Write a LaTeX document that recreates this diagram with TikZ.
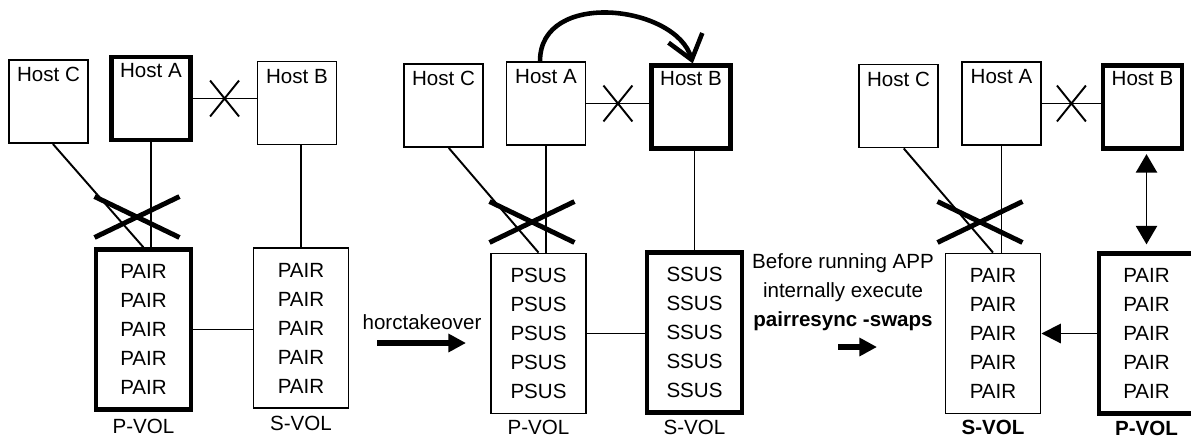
\documentclass[tikz,border=0pt]{standalone}
\usepackage{fontspec}
\setmainfont{Liberation Sans}
\usetikzlibrary{arrows.meta,positioning,shapes.misc}
\tikzset{
  every node/.style={font=\fontsize{11.7}{16.5}\selectfont},
  hst/.style={draw, line width=1.1pt, minimum width=1.58cm, minimum height=1.66cm,
    label={[anchor=north, inner sep=0pt, yshift=-0.16cm]north:#1}},
  vol/.style={draw, line width=1.1pt, minimum width=1.9cm, minimum height=3.2cm, align=center, inner sep=0pt},
  hvy/.style={line width=2.4pt},
  lnk/.style={line width=1.1pt},
  vlab/.style={inner sep=1pt},
  xs/.style={cross out, draw, line width=1.1pt, minimum width=0.54cm, minimum height=0.68cm, inner sep=0pt},
  xb/.style={cross out, draw, line width=2.8pt, minimum width=1.6cm, minimum height=0.72cm, inner sep=0pt},
  fat/.style={line width=3pt, -{Triangle[length=10pt,width=10pt]}},
  every picture/.style={line join=miter}
}

\begin{document}
\begin{tikzpicture}[x=0.02cm, y=-0.02cm]
  \useasboundingbox (0,0) rectangle (1191,441);
  \fill[white] (0,0) rectangle (1191,441);
  \clip (0,0) rectangle (1191,441);

  % before takeover
  \node[hst=Host C] (c1) at (48.5,101.5) {};
  \node[hst=Host A, hvy] (a1) at (151,98.5) {};
  \node[hst=Host B] (b1) at (297,103) {};
  \node[vol, hvy] (p1) at (143.5,329.5) {PAIR\\PAIR\\PAIR\\PAIR\\PAIR};
  \node[vol] (s1) at (301,328) {PAIR\\PAIR\\PAIR\\PAIR\\PAIR};
  \node[vlab, below=3pt of p1] (p1l) {P-VOL};
  \node[vlab, below=3pt of s1] (s1l) {S-VOL};
  \draw[lnk] (a1.east) -- node[xs] (x1) {} (a1.east -| b1.west);
  \draw[lnk] ([xshift=2.5pt]c1.south) -- (p1.north);
  \draw[lnk] (a1.south) -- (a1.south |- p1.north);
  \draw[lnk] (b1.south -| s1.north) -- (s1.north);
  \draw[lnk] (p1.east) -- (p1.east -| s1.west);
  \node[xb] (k1) at (137,217) {};

  \node (ht) at (422,322) {horctakeover};
  \coordinate (h0) at (377,343);
  \coordinate (h1) at (466,343);
  \draw[fat] (h0) -- (h1);

  % after takeover
  \node[hst=Host C] (c2) at (443.5,105.5) {};
  \node[hst=Host A] (a2) at (546,103.5) {};
  \node[hst=Host B, hvy] (b2) at (691,107) {};
  \node[vol] (p2) at (538.5,333.5) {PSUS\\PSUS\\PSUS\\PSUS\\PSUS};
  \node[vol, hvy] (s2) at (694.5,332.5) {SSUS\\SSUS\\SSUS\\SSUS\\SSUS};
  \node[vlab, below=2pt of p2] (p2l) {P-VOL};
  \node[vlab, below=2pt of s2] (s2l) {S-VOL};
  \draw[lnk] (a2.east) -- node[xs] (x2) {} (a2.east -| b2.west);
  \draw[lnk] ([xshift=3pt]c2.south) -- (p2.north);
  \draw[lnk] (a2.south) -- (a2.south |- p2.north);
  \draw[lnk] (b2.south -| s2.north) -- (s2.north);
  \draw[lnk] (p2.east) -- (p2.east -| s2.west);
  \node[xb] (k2) at (532,222) {};
  \draw[line width=2.6pt, -{Straight Barb[length=13pt,width=20pt]}]
    ([xshift=-3.4pt]a2.north) .. controls (540,-11) and (676,5) .. ([xshift=1pt]b2.north);

  \node[align=center] (msg) at (843,292) {Before running APP\\internally execute\\\textbf{pairresync -swaps}};
  \coordinate (m0) at (838,347);
  \coordinate (m1) at (877,347);
  \draw[fat] (m0) -- (m1);

  % after swap
  \node[hst=Host C] (c3) at (898.5,106) {};
  \node[hst=Host A] (a3) at (1001.5,103.5) {};
  \node[hst=Host B, hvy] (b3) at (1142.5,107) {};
  \node[vol] (s3) at (993,333.5) {PAIR\\PAIR\\PAIR\\PAIR\\PAIR};
  \node[vol, hvy] (p3) at (1146.5,333.5) {PAIR\\PAIR\\PAIR\\PAIR\\PAIR};
  \node[vlab, below=2pt of s3] (s3l) {\textbf{S-VOL}};
  \node[vlab, below=2pt of p3] (p3l) {\textbf{P-VOL}};
  \draw[lnk] (a3.east) -- node[xs] (x3) {} (a3.east -| b3.west);
  \draw[lnk] ([xshift=3pt]c3.south) -- (s3.north);
  \draw[lnk] (a3.south) -- (a3.south |- s3.north);
  \node[xb] (k3) at (980,222) {};
  \draw[lnk, {Triangle[length=10.5pt,width=12pt]}-{Triangle[length=10.5pt,width=12pt]}]
    ([yshift=-2pt]b3.south -| p3.north) -- ([yshift=4pt]p3.north);
  \draw[lnk, -{Triangle[length=11pt,width=11pt]}] (p3.west) -- (p3.west -| s3.east);
\end{tikzpicture}
\end{document}
